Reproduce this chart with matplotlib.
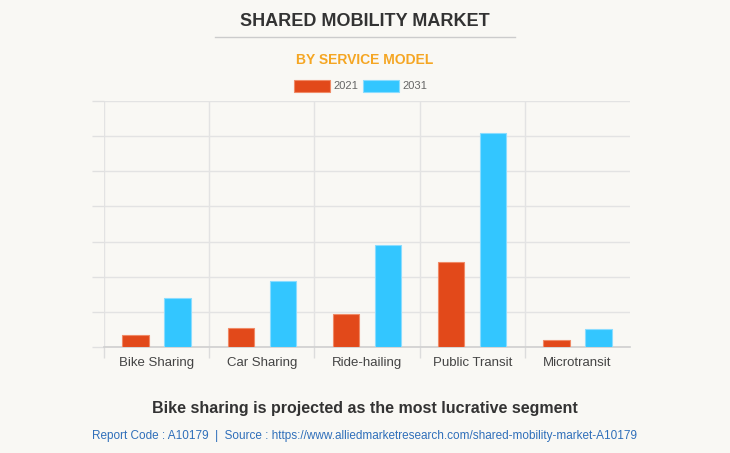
import matplotlib
matplotlib.use("Agg")
import matplotlib.pyplot as plt
import numpy as np
from matplotlib.patches import Rectangle
from matplotlib.lines import Line2D

plt.rcParams['font.family'] = ['Liberation Sans', 'DejaVu Sans']

categories = ["Bike Sharing", "Car Sharing", "Ride-hailing", "Public Transit", "Microtransit"]
series_names = ["2021", "2031"]
values_2021 = [0.34, 0.54, 0.94, 2.43, 0.20]
values_2031 = [1.40, 1.89, 2.91, 6.09, 0.51]
colors = ["#e2491a", "#33c6ff"]
edge_colors = ["#f08a66", "#8adcff"]

bg = "#f9f8f4"
fig = plt.figure(figsize=(7.30, 4.53), dpi=100, facecolor=bg)
ax = fig.add_axes([104/730, 106/453, 526/730, 246/453], facecolor=bg)

x = np.arange(len(categories))
w = 0.25
off = 0.2
ax.bar(x - off, values_2021, width=w, color=colors[0], edgecolor=edge_colors[0], linewidth=0.8, zorder=3)
ax.bar(x + off, values_2031, width=w, color=colors[1], edgecolor=edge_colors[1], linewidth=0.8, zorder=3)

ax.set_xlim(-0.5, len(categories) - 0.5)
ax.set_ylim(0, 7)
ax.set_yticks(np.arange(0, 8))
ax.set_yticklabels([])
ax.set_xticks(x)
ax.set_xticklabels(categories, fontsize=9.5, color="#444444")
ax.set_xticks(np.arange(-0.5, len(categories) - 1), minor=True)
ax.tick_params(axis='x', which='major', length=0, pad=7)
ax.tick_params(axis='x', which='minor', length=8, color="#dcdcdc", width=1)
ax.tick_params(axis='y', length=9, color="#e0e0e0", width=1)
ax.grid(axis='y', color="#e3e3e3", linewidth=1, zorder=0)
ax.grid(axis='x', which='minor', color="#e3e3e3", linewidth=1, zorder=0)
ax.grid(axis='x', which='major', visible=False)
for s in ['top', 'right', 'left']:
    ax.spines[s].set_visible(False)
ax.spines['bottom'].set_color("#cfcfcf")
ax.spines['bottom'].set_linewidth(1.2)

fig.text(365/730, 1 - 21/453, "SHARED MOBILITY MARKET", ha='center', va='center',
         fontsize=13, fontweight='bold', color="#333333")
fig.add_artist(Line2D([215/730, 515/730], [1 - 37/453, 1 - 37/453], color="#cccccc", linewidth=1))
fig.text(365/730, 1 - 60/453, "BY SERVICE MODEL", ha='center', va='center',
         fontsize=10, fontweight='bold', color="#f5a623")

# legend
ly = 1 - 86/453
for i, (name, c, ec, px) in enumerate(zip(series_names, colors, edge_colors, [294, 363])):
    fig.add_artist(Rectangle((px/730, ly - 6/453), 36/730, 12/453, facecolor=c, edgecolor=ec,
                             linewidth=0.8, transform=fig.transFigure))
    fig.text((px + 39)/730, ly, name, ha='left', va='center', fontsize=8, color="#666666")

fig.text(365/730, 1 - 408/453, "Bike sharing is projected as the most lucrative segment",
         ha='center', va='center', fontsize=11.5, fontweight='bold', color="#333333")
fig.text(365/730, 1 - 436/453,
         "Report Code : A10179  |  Source : https://www.alliedmarketresearch.com/shared-mobility-market-A10179",
         ha='center', va='center', fontsize=8.5, color="#2f6fba")

fig.savefig("out.png", dpi=100, facecolor=bg)
